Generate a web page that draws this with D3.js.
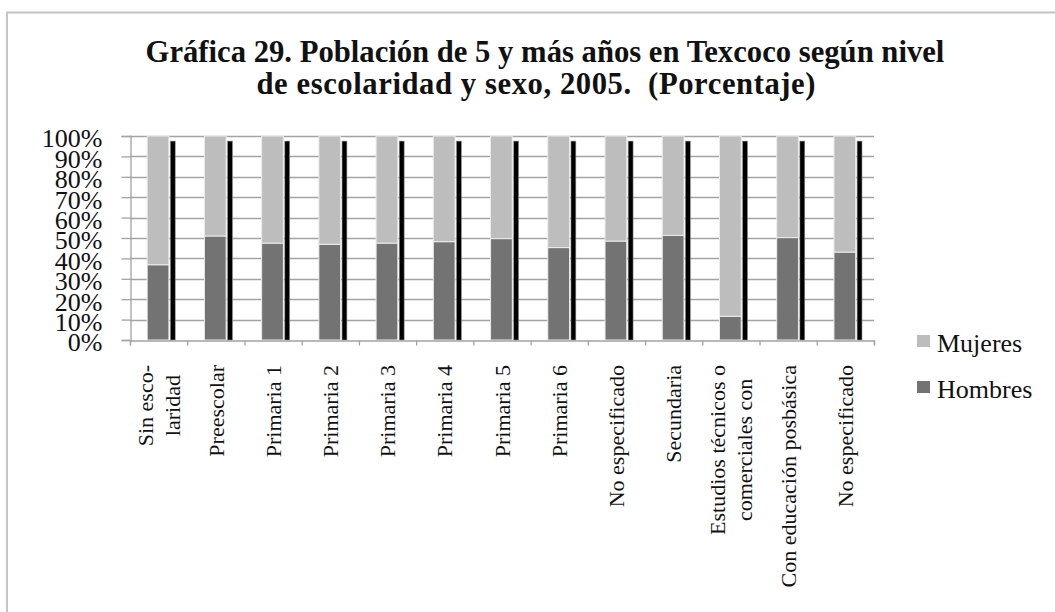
<!DOCTYPE html>
<html>
<head>
<meta charset="utf-8">
<script src="https://cdn.jsdelivr.net/npm/d3@7/dist/d3.min.js"></script>
<style>
    body { margin: 0; background: #fff; }
    svg { display: block; }
</style>
</head>
<body>
<svg id="chart" width="1055" height="612"></svg>
<script>
'use strict';

// categories (rotated labels, "\n" = line break)
var categories = [
    "Sin esco-\nlaridad", "Preescolar", "Primaria 1", "Primaria 2", "Primaria 3",
    "Primaria 4", "Primaria 5", "Primaria 6", "No especificado", "Secundaria",
    "Estudios técnicos o\ncomerciales con", "Con educación posbásica", "No especificado"
];
// porcentajes
var hombres = [36.9, 51.0, 47.5, 46.9, 47.5, 48.2, 49.7, 45.3, 48.5, 51.3, 11.6, 50.2, 43.1];
var mujeres = [63.1, 49.0, 52.5, 53.1, 52.5, 51.8, 50.3, 54.7, 51.5, 48.7, 88.4, 49.8, 56.9];
// thin black series next to each stack (no legend entry)
var total = [97.5, 97.5, 97.5, 97.5, 97.5, 97.5, 97.5, 97.5, 97.5, 97.5, 97.5, 97.5, 97.5];
var yTicks = [0, 10, 20, 30, 40, 50, 60, 70, 80, 90, 100];
var titleLines = [
    "Gráfica 29. Población de 5 y más años en Texcoco según nivel",
    "de escolaridad y sexo, 2005.  (Porcentaje)"
];
var legendItems = [
    {name: "Mujeres", color: "#bdbdbd"},
    {name: "Hombres", color: "#737373"}
];

var svg = d3.select("#chart");
var serif = "'Liberation Serif', 'Times New Roman', serif";

var margin = {left: 130, top: 136, right: 874, bottom: 340};

var x = d3.scaleBand()
    .domain(d3.range(categories.length))
    .range([margin.left, margin.right])
    .padding(0);

var xEdge = d3.scaleLinear()
    .domain([0, categories.length])
    .range([margin.left, margin.right]);

var y = d3.scaleLinear()
    .domain([0, 100])
    .range([margin.bottom, margin.top]);

//outer frame (right/bottom edges fall outside the picture)
svg.append("rect")
    .attr("x", 7).attr("y", 12.5)
    .attr("width", 1200).attr("height", 800)
    .attr("fill", "none")
    .attr("stroke", "#c4c4c4")
    .attr("stroke-width", 2);

//title
var title = svg.append("g").attr("class", "title");
var titleCenters = [545, 536];
var titleWidths = [799, 559];
titleLines.forEach(function (t, i) {
    title.append("text")
        .attr("x", titleCenters[i])
        .attr("y", 62 + i * 32)
        .attr("text-anchor", "middle")
        .attr("xml:space", "preserve")
        .style("font-family", serif)
        .style("font-weight", "bold")
        .style("font-size", "26px")
        .attr("fill", "#111")
        .text(t);
});
// fit first line to the reference width, stretch the second by spacing
var firstLen = title.select("text").node().getComputedTextLength();
var titleSize = Math.max(20, Math.min(32, 26 * titleWidths[0] / firstLen));
title.selectAll("text").style("font-size", titleSize + "px");
title.selectAll("text").filter(function (d, i) { return i === 1; })
    .attr("textLength", titleWidths[1])
    .attr("lengthAdjust", "spacing");

//gridlines
svg.append("g")
    .selectAll("line")
    .data(yTicks.filter(function (d) { return d > 0; }))
    .enter().append("line")
    .attr("x1", margin.left).attr("x2", margin.right)
    .attr("y1", function (d) { return Math.round(y(d)) + 0.5; })
    .attr("y2", function (d) { return Math.round(y(d)) + 0.5; })
    .attr("stroke", "#a3a3a3")
    .attr("stroke-width", 1.3);

//y axis
var yAxis = svg.append("g")
    .attr("transform", "translate(" + (margin.left + 0.5) + ",0)")
    .call(d3.axisLeft(y)
        .tickValues(yTicks)
        .tickSize(9)
        .tickPadding(19)
        .tickFormat(function (d) { return d + "%"; }));
yAxis.select(".domain").attr("stroke", "#a3a3a3").attr("stroke-width", 1.3);
yAxis.selectAll(".tick line").attr("stroke", "#a3a3a3").attr("stroke-width", 1.3);
yAxis.selectAll(".tick text")
    .attr("dy", "0.42em")
    .style("font-family", serif)
    .style("font-size", "26px")
    .attr("fill", "#111");

//bars
var bw = x.bandwidth();
var stackData = categories.map(function (c, i) {
    return {i: i, hombres: hombres[i], mujeres: mujeres[i]};
});
var stack = d3.stack().keys(["hombres", "mujeres"]);
var series = stack(stackData);
var fills = {hombres: "#737373", mujeres: "#bdbdbd"};

svg.append("g")
    .selectAll("g")
    .data(series)
    .enter().append("g")
    .attr("fill", function (s) { return fills[s.key]; })
    .selectAll("rect")
    .data(function (s) { return s; })
    .enter().append("rect")
    .attr("x", function (d) { return x(d.data.i) + bw * 0.30; })
    .attr("width", bw * 0.38)
    .attr("y", function (d) { return y(d[1]); })
    .attr("height", function (d) { return y(d[0]) - y(d[1]); })
    .attr("stroke", "#ececec")
    .attr("stroke-width", 1);

svg.append("g")
    .selectAll("rect")
    .data(total)
    .enter().append("rect")
    .attr("x", function (d, i) { return x(i) + bw * 0.705; })
    .attr("width", bw * 0.085)
    .attr("y", function (d) { return y(d); })
    .attr("height", function (d) { return y(0) - y(d); })
    .attr("fill", "#000")
    .attr("stroke", "#8a8a8a")
    .attr("stroke-width", 0.6);

//x axis (ticks between categories)
var xAxis = svg.append("g")
    .attr("transform", "translate(0," + (margin.bottom + 0.5) + ")")
    .call(d3.axisBottom(xEdge)
        .tickValues(d3.range(categories.length + 1))
        .tickSize(5)
        .tickFormat(""));
xAxis.select(".domain").attr("stroke", "#a3a3a3").attr("stroke-width", 1.3);
xAxis.selectAll(".tick line").attr("stroke", "#a3a3a3").attr("stroke-width", 1.3);

//category labels, rotated
var labelTop = 365, lineGap = 27;
var labels = svg.append("g")
    .selectAll("g")
    .data(categories)
    .enter().append("g");

labels.each(function (c, i) {
    var g = d3.select(this);
    var lines = c.split("\n");
    var cx = x(i) + bw / 2;
    var texts = lines.map(function (l, k) {
        return g.append("text")
            .attr("text-anchor", "middle")
            .attr("dy", "0.35em")
            .style("font-family", serif)
            .style("font-size", "22px")
            .attr("fill", "#111")
            .text(l);
    });
    var maxLen = d3.max(texts, function (t) { return t.node().getComputedTextLength(); });
    texts.forEach(function (t, k) {
        var lx = cx + (k - (lines.length - 1) / 2) * lineGap;
        var ly = labelTop + maxLen / 2;
        t.attr("transform", "translate(" + lx + "," + ly + ") rotate(-90)");
    });
});

//legend
var legend = svg.append("g")
    .selectAll("g")
    .data(legendItems)
    .enter().append("g")
    .attr("transform", function (d, i) { return "translate(917," + (352 + i * 46) + ")"; });

legend.append("rect")
    .attr("x", 0).attr("y", -17)
    .attr("width", 13).attr("height", 12)
    .attr("fill", function (d) { return d.color; });

legend.append("text")
    .attr("x", 20).attr("y", 0)
    .style("font-family", serif)
    .style("font-size", "26px")
    .attr("fill", "#111")
    .text(function (d) { return d.name; });
</script>
</body>
</html>
